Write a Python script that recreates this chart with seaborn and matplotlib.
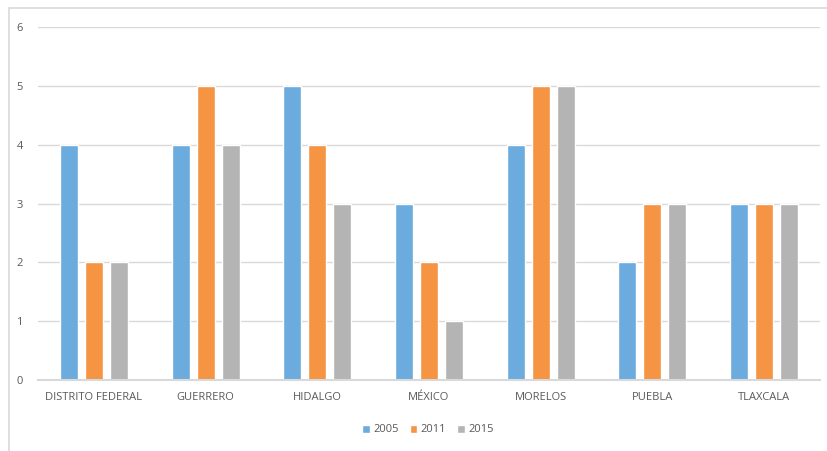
import pandas as pd
import numpy as np
import matplotlib
matplotlib.use("Agg")
import matplotlib.pyplot as plt
import seaborn as sns
from matplotlib.patches import Rectangle

# data
estados = ["DISTRITO FEDERAL", "GUERRERO", "HIDALGO", "MÉXICO", "MORELOS", "PUEBLA", "TLAXCALA"]
v2005 = [4, 4, 5, 3, 4, 2, 3]
v2011 = [2, 5, 4, 2, 5, 3, 3]
v2015 = [2, 4, 3, 1, 5, 3, 3]
years = ["2005", "2011", "2015"]
colores = ["#6CABDD", "#F59443", "#B4B4B4"]

df = pd.DataFrame({"estado": estados * 3,
                   "anio": [y for y in years for _ in estados],
                   "valor": v2005 + v2011 + v2015})

sns.set_style("white")
plt.rcParams["font.family"] = ["Open Sans", "DejaVu Sans"]
txt = "#595959"

fig = plt.figure(figsize=(8.27, 4.51), dpi=100)
ax = fig.add_axes([38/827, 1-380/451, (820-38)/827, (380-27)/451])

sns.barplot(data=df, x="estado", y="valor", hue="anio", palette=colores,
            saturation=1, width=0.67, gap=0.28, ax=ax, legend=True)

ax.set_ylim(0, 6)
ax.set_xlim(-0.5, 6.5)
ax.set_yticks(range(0, 7))
ax.yaxis.grid(True, color="#D9D9D9", linewidth=1)
ax.set_axisbelow(True)
for s in ["top", "right", "left"]:
    ax.spines[s].set_visible(False)
ax.spines["bottom"].set_color("#D9D9D9")
ax.spines["bottom"].set_linewidth(1.5)
ax.set_xlabel("")
ax.set_ylabel("")
ax.tick_params(axis="both", length=0, labelsize=8, colors=txt)
ax.tick_params(axis="y", pad=11)
ax.tick_params(axis="x", pad=9)

h, l = ax.get_legend_handles_labels()
ax.get_legend().remove()
fig.legend(h, l, loc="center", bbox_to_anchor=(428/827, 1-430/451), ncol=3,
           frameon=False, fontsize=8, labelcolor=txt, handlelength=0.7,
           handleheight=0.7, handletextpad=0.3, columnspacing=1.0)

# chart border (cropped on right/bottom)
fig.patches.append(Rectangle((8.5/827, -0.1), 1.2, 1.1 - 8.5/451,
                             transform=fig.transFigure, fill=False,
                             edgecolor="#D9D9D9", linewidth=1.2))

fig.savefig("out.png", dpi=100)
